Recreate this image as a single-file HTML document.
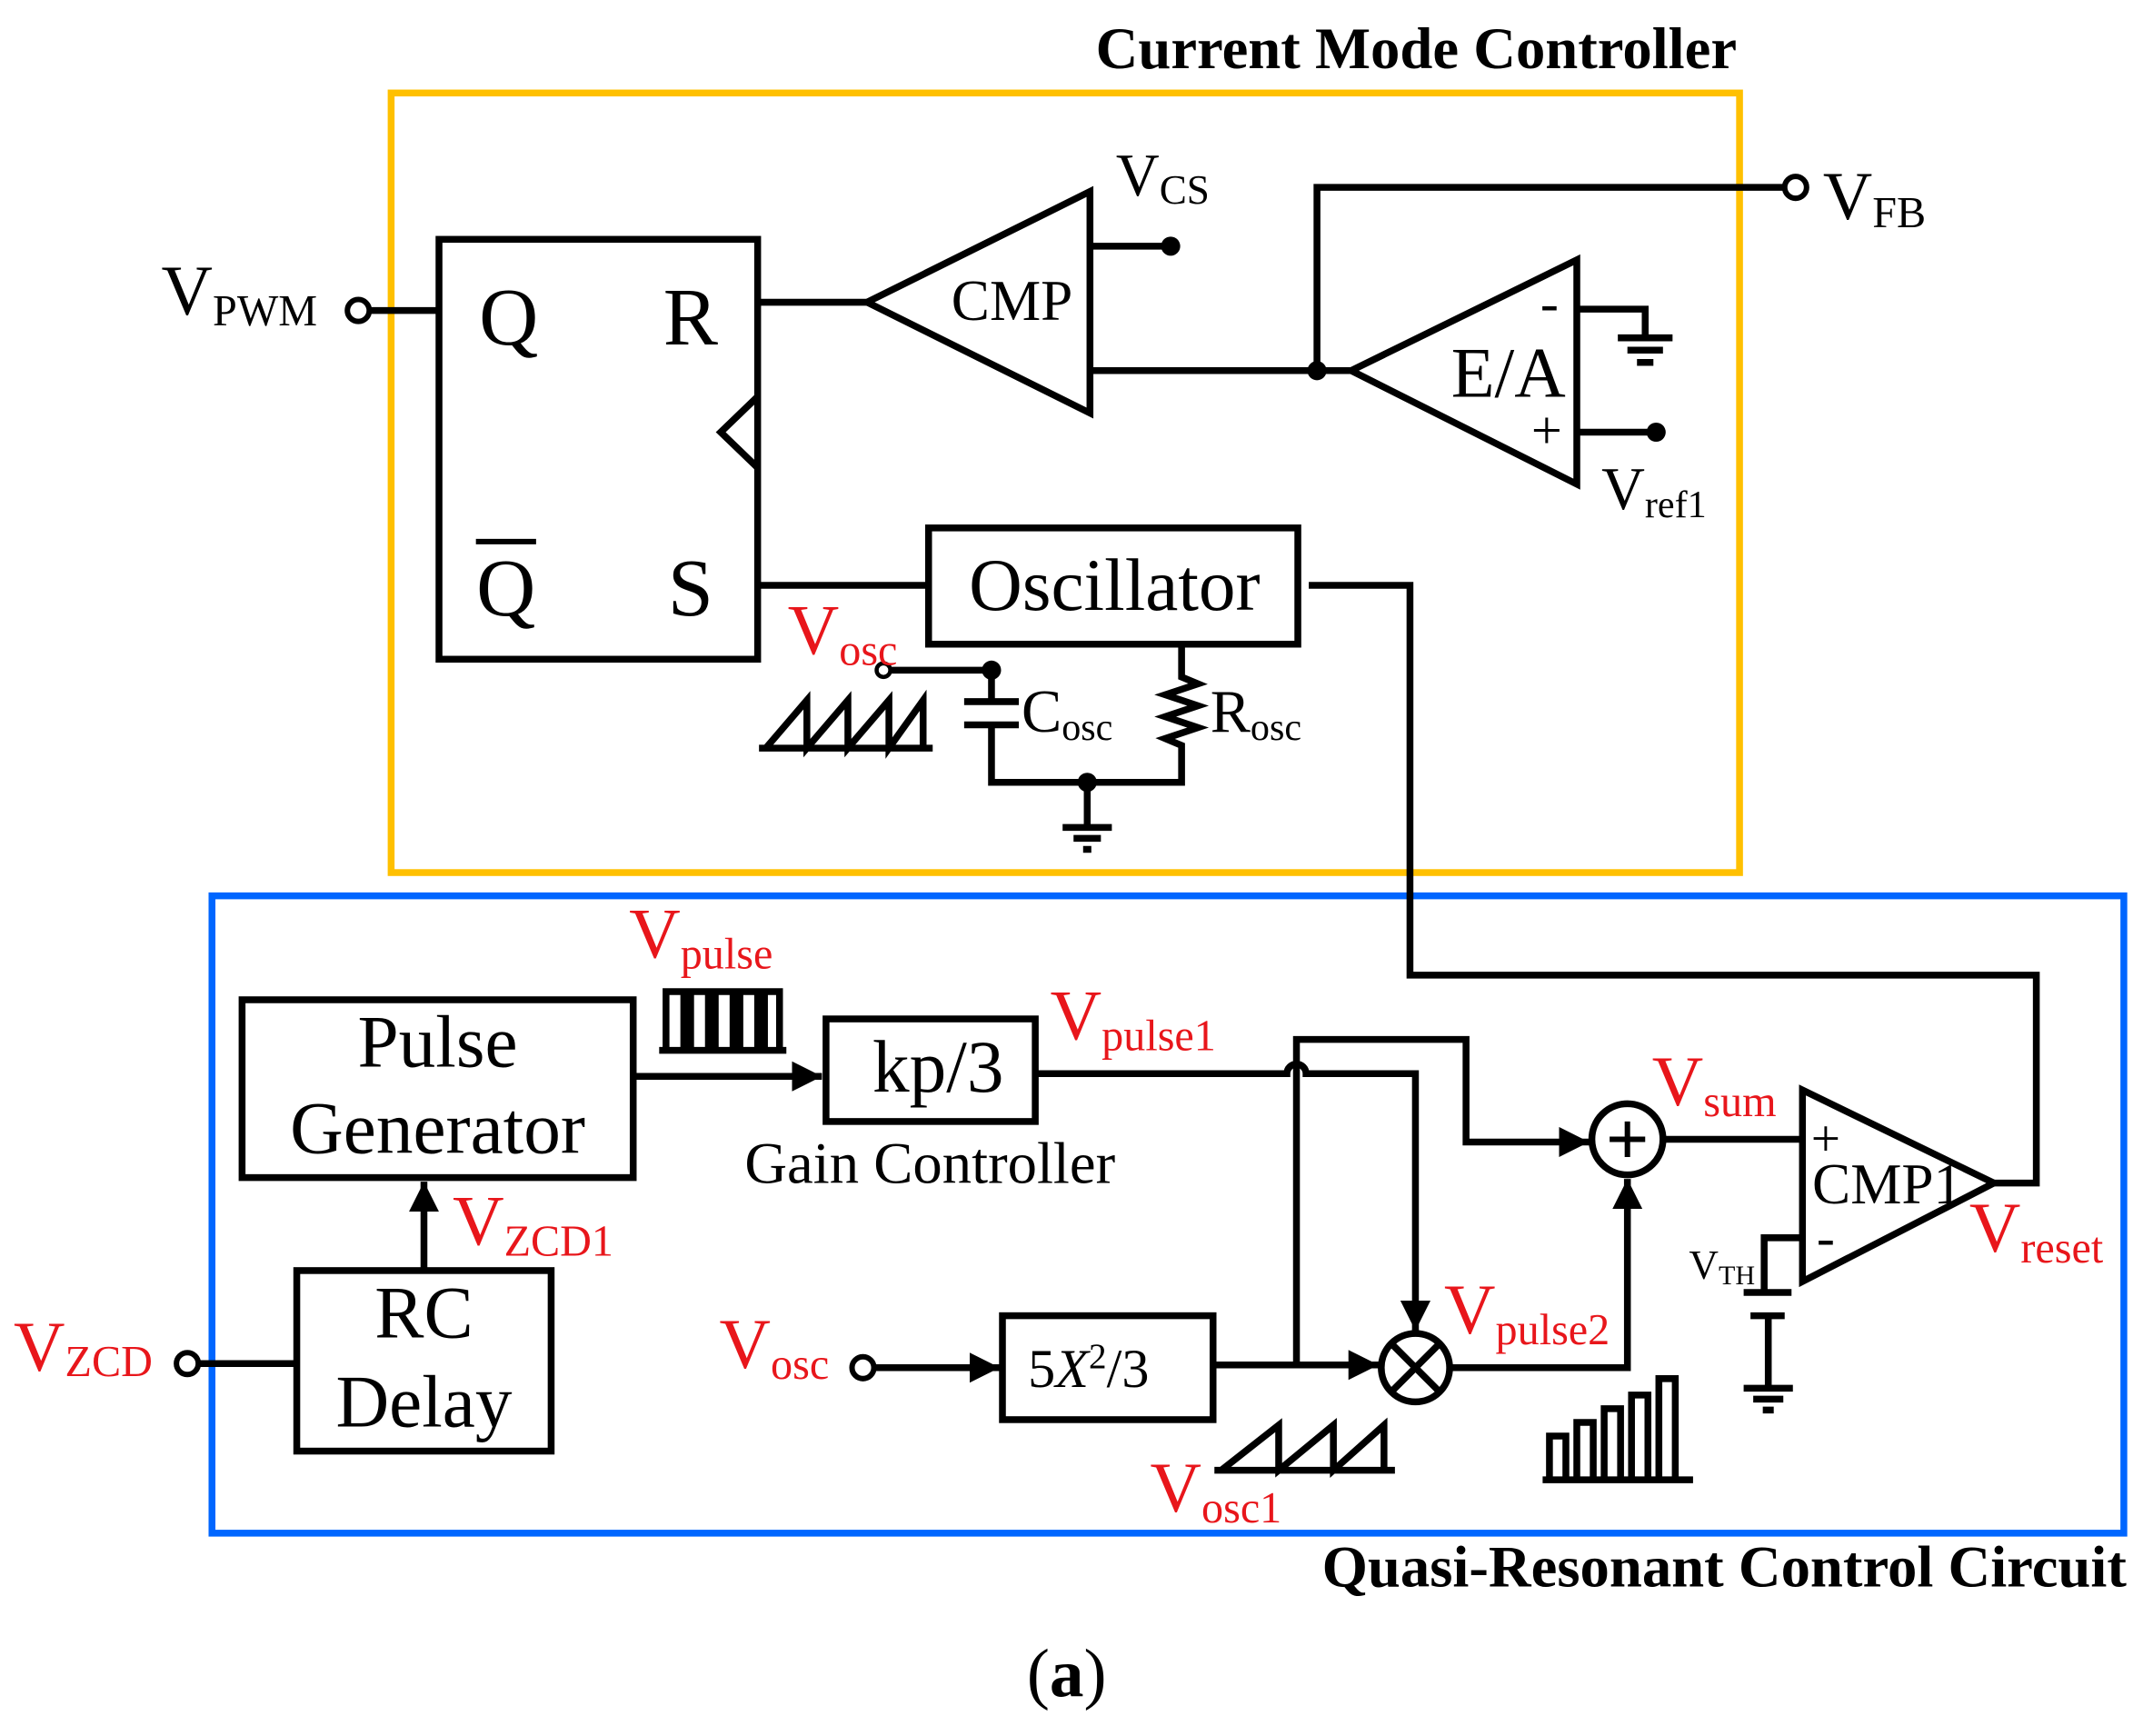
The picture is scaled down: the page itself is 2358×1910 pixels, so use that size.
<!DOCTYPE html>
<html><head><meta charset="utf-8"><style>html,body{margin:0;padding:0;background:#fff}svg{display:block}</style></head><body>
<svg width="2358" height="1910" viewBox="0 0 1567 1269.3" xmlns="http://www.w3.org/2000/svg" font-family="Liberation Serif, serif">
<defs>
<marker id="a" viewBox="0 0 10 10" refX="10" refY="5" markerWidth="22" markerHeight="22" orient="auto" markerUnits="userSpaceOnUse"><path d="M0,0L10,5L0,10z" fill="#000"/></marker></defs>
<rect x="286" y="68" width="986" height="570" fill="none" stroke="#FFC000" stroke-width="5"/>
<rect x="155" y="655" width="1398" height="466" fill="none" stroke="#0066FF" stroke-width="5"/>
<text x="1270" y="50" font-size="43" font-weight="bold" text-anchor="end">Current Mode Controller</text>
<text x="1555" y="1160" font-size="43" font-weight="bold" text-anchor="end">Quasi-Resonant Control Circuit</text>
<text x="780" y="1240" font-size="50" text-anchor="middle">(<tspan font-weight="bold">a</tspan>)</text>
<g fill="none" stroke="#000" stroke-width="5">
<rect x="321" y="175" width="233" height="307"/>
<path d="M554,290L527,316L554,342"/>
<path d="M270,227H321"/><circle cx="262" cy="227" r="8" stroke-width="4"/>
<path d="M554,221H634"/>
<path d="M634,221L797,140V302Z"/>
<path d="M797,180H856"/>
<path d="M797,271H988"/>
<path d="M963,271V137H1305"/><circle cx="1313" cy="137" r="8" stroke-width="4"/>
<path d="M988,271L1153,190V354Z"/>
<path d="M1153,226H1203V245M1183,247H1223M1190,256H1216M1197,265H1209"/>
<path d="M1153,316H1211"/>
<path d="M554,428H679"/>
<rect x="679" y="386" width="270" height="85"/>
<path d="M957,428H1031V713H1489V865H1458"/>
<path d="M651,490H725V513M705,513H745M705,530H745M725,530V572H864V545L852,540L876,532L852,524L876,516L852,508L876,500L864,495V471"/>
<path d="M795,572V605M777,605H813M785,613H805M792,621H798"/>
<path d="M555,547H682M560,547L590,512V547L620,512V547L650,512V547L675,512V547"/>
<rect x="177" y="731" width="286" height="130"/>
<rect x="217" y="929" width="186" height="132"/>
<path d="M310,929V864" marker-end="url(#a)"/>
<path d="M145,997H217"/><circle cx="137" cy="997" r="8" stroke-width="4"/>
<path d="M463,787H601" marker-end="url(#a)"/>
<path d="M482,768H575M487,768V725H500V768M505,768V725H518V768M523,768V725H536V768M541,768V725H554V768M559,768V725H570V768"/>
<rect x="604" y="745" width="153" height="75"/>
<path d="M757,785H941A7,7 0 0 1 955,785H1035V973" marker-end="url(#a)"/>
<path d="M948,998V760H1072V835H1162" marker-end="url(#a)"/>
<path d="M887,998H1008" marker-end="url(#a)"/>
<circle cx="1035" cy="1000" r="25"/>
<path d="M1017,982L1053,1018M1053,982L1017,1018"/>
<path d="M1060,1000H1190V862" marker-end="url(#a)"/>
<circle cx="1190" cy="833" r="26"/>
<path d="M1177,833H1203M1190,820V846" stroke-width="4"/>
<path d="M1216,833H1318"/>
<path d="M1318,797V937L1458,865Z"/>
<path d="M1318,905H1290V945M1275,945H1310M1280,962H1305M1293,962V1015M1275,1015H1311M1282,1023H1304M1289,1031H1297"/>
<path d="M639,1000H731" marker-end="url(#a)"/><circle cx="631" cy="1000" r="8" stroke-width="4"/>
<rect x="733" y="962" width="154" height="76"/>
<path d="M888,1075H1020M893,1075L935,1042V1075L975,1042V1075L1012,1042V1075"/>
<path d="M1128,1082H1238M1133,1082V1050H1145V1082M1153,1082V1040H1165V1082M1173,1082V1030H1185V1082M1193,1082V1020H1205V1082M1213,1082V1008H1225V1082"/>
</g>
<g fill="#000"><circle cx="856" cy="180" r="7"/><circle cx="963" cy="271" r="7"/><circle cx="1211" cy="316" r="7"/><circle cx="725" cy="490" r="7"/><circle cx="795" cy="572" r="7"/></g>
<circle cx="646" cy="490" r="5" fill="#fff" stroke="#000" stroke-width="3"/>
<g font-size="60"><text x="372" y="252" text-anchor="middle">Q</text><text x="505" y="252" text-anchor="middle">R</text><text x="370" y="450" text-anchor="middle">Q</text><text x="505" y="450" text-anchor="middle">S</text></g>
<path d="M348,396H392" stroke="#000" stroke-width="4"/>
<text x="118" y="230" font-size="52">V<tspan font-size="32" dy="8">PWM</tspan></text>
<text x="740" y="234" font-size="42" text-anchor="middle">CMP</text>
<text x="816" y="143" font-size="44">V<tspan font-size="30" dy="6">CS</tspan></text>
<text x="1333" y="160" font-size="50">V<tspan font-size="32" dy="6">FB</tspan></text>
<text x="1103" y="290" font-size="52" text-anchor="middle">E/A</text>
<text x="1133" y="235" font-size="40" text-anchor="middle">-</text>
<text x="1131" y="328" font-size="40" text-anchor="middle">+</text>
<text x="1171" y="372" font-size="44">V<tspan font-size="28" dy="6">ref1</tspan></text>
<text x="815" y="446" font-size="54" text-anchor="middle">Oscillator</text>
<text x="576" y="478" font-size="52" fill="#e8161b">V<tspan font-size="32" dy="8">osc</tspan></text>
<text x="747" y="535" font-size="44">C<tspan font-size="28" dy="6">osc</tspan></text>
<text x="885" y="535" font-size="44">R<tspan font-size="28" dy="6">osc</tspan></text>
<text x="320" y="780" font-size="54" text-anchor="middle">Pulse</text>
<text x="320" y="843" font-size="54" text-anchor="middle">Generator</text>
<text x="310" y="978" font-size="54" text-anchor="middle">RC</text>
<text x="310" y="1043" font-size="54" text-anchor="middle">Delay</text>
<text x="686" y="798" font-size="54" text-anchor="middle">kp/3</text>
<text x="680" y="865" font-size="43" text-anchor="middle">Gain Controller</text>
<text x="796" y="1014" font-size="40" text-anchor="middle">5<tspan font-style="italic">X</tspan><tspan font-size="26" dy="-14">2</tspan><tspan dy="14">/3</tspan></text>
<text x="1335" y="845" font-size="38" text-anchor="middle">+</text>
<text x="1380" y="880" font-size="42" text-anchor="middle">CMP1</text>
<text x="1335" y="918" font-size="40" text-anchor="middle">-</text>
<text x="1235" y="935" font-size="30">V<tspan font-size="20" dy="4">TH</tspan></text>
<g fill="#e8161b">
<text x="460" y="700" font-size="52">V<tspan font-size="32" dy="8">pulse</tspan></text>
<text x="768" y="760" font-size="52">V<tspan font-size="32" dy="8">pulse1</tspan></text>
<text x="1208" y="808" font-size="52">V<tspan font-size="32" dy="8">sum</tspan></text>
<text x="1440" y="915" font-size="52">V<tspan font-size="32" dy="8">reset</tspan></text>
<text x="331" y="910" font-size="52">V<tspan font-size="32" dy="8">ZCD1</tspan></text>
<text x="10" y="1002" font-size="52">V<tspan font-size="32" dy="4">ZCD</tspan></text>
<text x="526" y="1000" font-size="52">V<tspan font-size="32" dy="8">osc</tspan></text>
<text x="1056" y="975" font-size="52">V<tspan font-size="32" dy="8">pulse2</tspan></text>
<text x="841" y="1105" font-size="52">V<tspan font-size="32" dy="8">osc1</tspan></text>
</g>
</svg>
</body></html>
